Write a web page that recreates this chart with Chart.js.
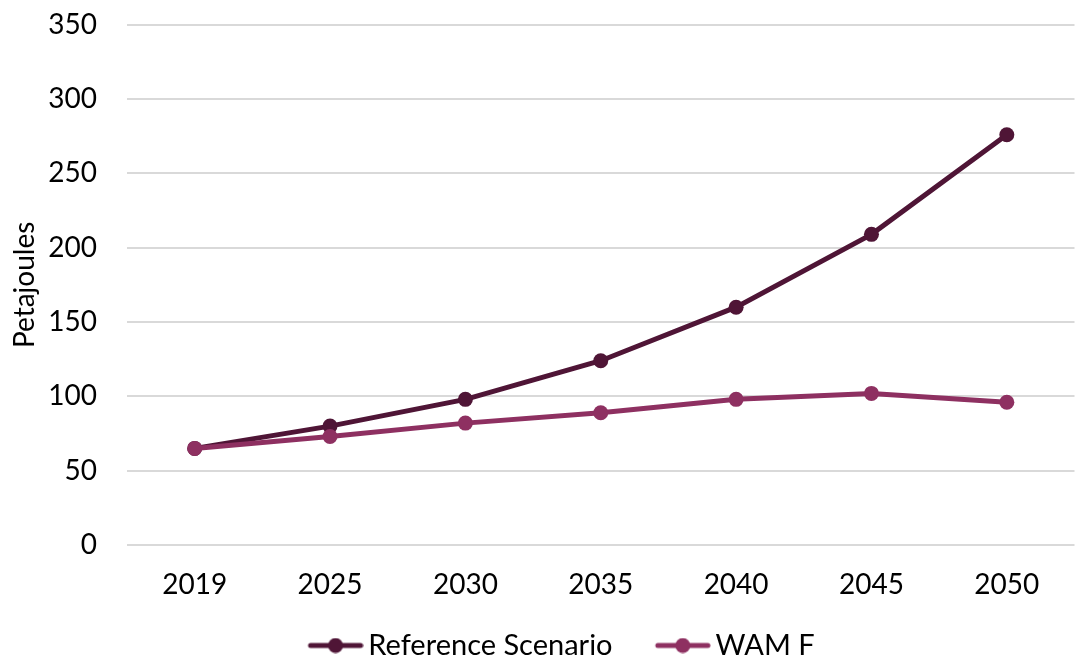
<!DOCTYPE html>
<html>
<head>
<meta charset="utf-8">
<script src="https://cdn.jsdelivr.net/npm/chart.js@4/dist/chart.umd.min.js"></script>
<style>
html,body{margin:0;padding:0;background:#fff;overflow:hidden;}
#wrap{width:1076px;height:661px;overflow:hidden;position:relative;}
#c{position:absolute;left:0;top:0;}
</style>
</head>
<body>
<div id="wrap"><canvas id="c" width="1082" height="670"></canvas></div>
<script>
const categories = ["2019","2025","2030","2035","2040","2045","2050"];
const referenceScenario = [65, 80, 98, 124, 160, 209, 276];
const wamF = [65, 73, 82, 89, 98, 102, 96];
const yTicks = [0, 50, 100, 150, 200, 250, 300, 350];
const seriesNames = ["Reference Scenario", "WAM F"];

const refColor = "#4f1536";
const wamColor = "#8e3061";
const FONT = "Lato, 'Open Sans', sans-serif";
const FS = 28;
const LFS = 29;
const LPAD = 2;
const ICON_L = 49.5;

function legendIcon(color){
  const cv = document.createElement('canvas');
  cv.width = Math.round(56 + ICON_L); cv.height = 16;
  const off = cv.width - 56;
  const g = cv.getContext('2d');
  g.strokeStyle = color; g.lineWidth = 5; g.lineCap = 'round';
  g.beginPath(); g.moveTo(off + 3, 8); g.lineTo(off + 53, 8); g.stroke();
  g.fillStyle = color;
  g.beginPath(); g.arc(off + 28, 8, 7.5, 0, Math.PI*2); g.fill();
  return cv;
}
const icons = [legendIcon(refColor), legendIcon(wamColor)];
const clear = 'rgba(0,0,0,0)';

new Chart(document.getElementById('c'), {
  type: 'line',
  data: {
    labels: categories,
    datasets: [
      {label: seriesNames[0], data: referenceScenario, borderColor: refColor, backgroundColor: refColor,
       borderWidth: 5, pointRadius: 7.5, pointBorderWidth: 0, pointBackgroundColor: refColor,
       pointStyle: 'circle', order: 2, tension: 0},
      {label: seriesNames[1], data: wamF, borderColor: wamColor, backgroundColor: wamColor,
       borderWidth: 5, pointRadius: 7.5, pointBorderWidth: 0, pointBackgroundColor: wamColor,
       pointStyle: 'circle', order: 1, tension: 0}
    ]
  },
  options: {
    responsive: false,
    animation: false,
    layout: {padding: 0},
    plugins: {
      tooltip: {enabled: false},
      legend: {
        position: 'bottom',
        labels: {
          font: {family: FONT, size: LFS, lineHeight: 1},
          color: '#000',
          usePointStyle: true,
          pointStyleWidth: 37 + ICON_L,
          padding: LPAD,
          sort: (a, b) => a.datasetIndex - b.datasetIndex,
          generateLabels: (chart) => chart.data.datasets.map((ds, i) => ({
            text: ds.label, datasetIndex: i, pointStyle: icons[i],
            fillStyle: ds.borderColor, strokeStyle: ds.borderColor, lineWidth: 0,
            hidden: false, fontColor: '#000'
          }))
        }
      }
    },
    scales: {
      x: {
        offset: true,
        grid: {display: true, color: clear, drawTicks: true, tickLength: 23, tickColor: clear},
        border: {display: false},
        ticks: {font: {family: FONT, size: FS}, color: '#000', padding: 0},
        afterFit: (ax) => { ax.height = 84; }
      },
      y: {
        min: 0, max: 350,
        afterBuildTicks: (ax) => { ax.ticks = yTicks.map(v => ({value: v})); },
        grid: {color: '#d9d9d9', lineWidth: 2, drawTicks: true, tickLength: 22, tickColor: clear},
        border: {display: false},
        ticks: {font: {family: FONT, size: FS}, color: '#000', padding: 8},
        title: {display: true, text: 'Petajoules', font: {family: FONT, size: FS}, color: '#000', padding: {top: 8, bottom: 0}},
        afterFit: (ax) => { ax.width = 127; }
      }
    }
  }
});
</script>
</body>
</html>
